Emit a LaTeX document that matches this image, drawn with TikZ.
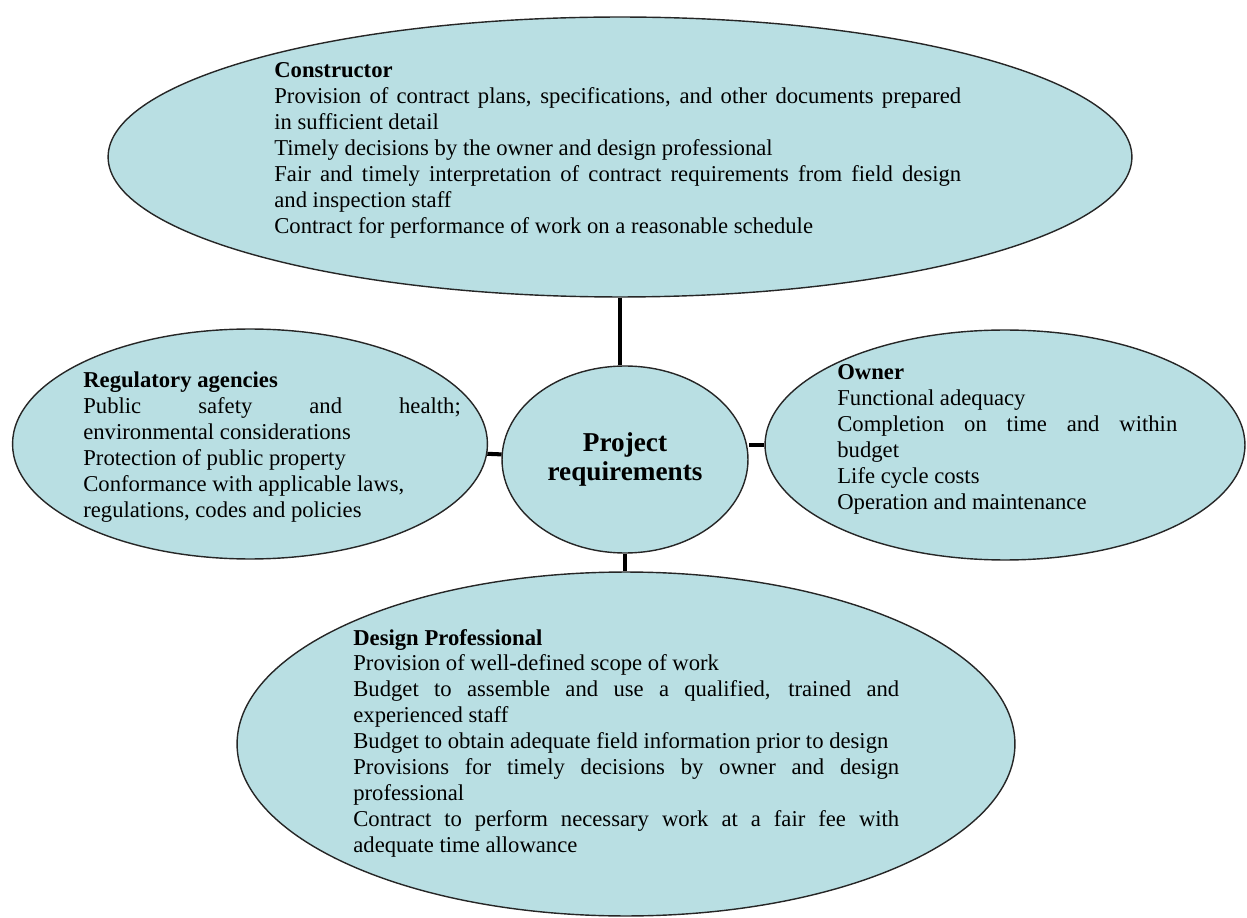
\documentclass[tikz,border=0pt]{standalone}
\usepackage{fontspec}
\setmainfont{Liberation Serif}
\usetikzlibrary{shapes.geometric}
\definecolor{reqfill}{RGB}{185,223,227}
\hbadness=10000

\begin{document}
\begin{tikzpicture}[x=0.02cm, y=-0.02cm,
    part/.style={ellipse, draw=black!85, line width=0.8pt, fill=reqfill, inner sep=0pt},
    txt/.style={anchor=base west, inner sep=0pt, align=justify,
                font=\fontsize{12.9}{14.74}\selectfont},
    link/.style={line width=2.3pt}]
  \useasboundingbox (0,0) rectangle (1247,918);

  % the four parties round the centre
  \node[part, minimum width=20.48cm, minimum height=5.6cm] (con) at (620,157) {};
  \node[part, minimum width=9.5cm, minimum height=4.6cm] (reg) at (250,444) {};
  \node[part, minimum width=9.6cm, minimum height=4.6cm] (own) at (1005,445) {};
  \node[part, minimum width=15.56cm, minimum height=6.88cm] (des) at (626,744) {};
  \node[part, minimum width=4.92cm, minimum height=3.74cm, align=center,
        font=\bfseries\fontsize{15.5}{17}\selectfont] (ctr) at (625,459.5)
    {Project\\requirements};

  \draw[link] (con.south) -- (con.south |- ctr.north);
  \draw[link] (reg) -- (ctr);
  \draw[link] (own.west) -- (own.west -| ctr.east);
  \draw[link] (ctr.south) -- (ctr.south |- des.north);

  % what each party needs
  \node[txt, text width=13.74cm] (conTxt) at (274,78)
    {\textbf{Constructor}\\
     Provision of contract plans, specifications, and other documents prepared\linebreak
     in sufficient detail\\
     Timely decisions by the owner and design professional\\
     Fair and timely interpretation of contract requirements from field design\linebreak
     and inspection staff\\
     Contract for performance of work on a reasonable schedule};

  \node[txt, text width=7.55cm] (regTxt) at (83,388)
    {\textbf{Regulatory agencies}\\
     Public safety and health;\linebreak
     environmental considerations\\
     Protection of public property\\
     Conformance with applicable laws,\\
     regulations, codes and policies};

  \node[txt, text width=6.8cm] (ownTxt) at (837,380)
    {\textbf{Owner}\\
     Functional adequacy\\
     Completion on time and within\linebreak
     budget\\
     Life cycle costs\\
     Operation and maintenance};

  \node[txt, text width=10.92cm] (desTxt) at (353,645)
    {\textbf{Design Professional}\\
     Provision of well-defined scope of work\\
     Budget to assemble and use a qualified, trained and\linebreak
     experienced staff\\
     Budget to obtain adequate field information prior to design\\
     Provisions for timely decisions by owner and design\linebreak
     professional\\
     Contract to perform necessary work at a fair fee with\linebreak
     adequate time allowance};
\end{tikzpicture}
\end{document}
